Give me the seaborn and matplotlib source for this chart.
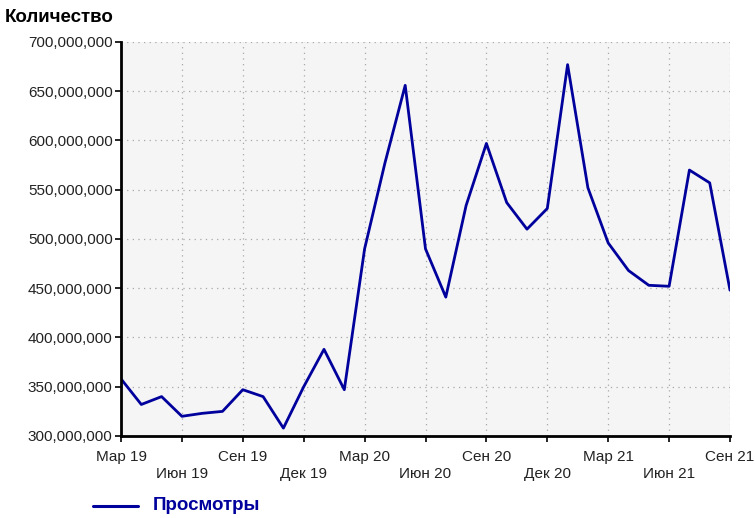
import matplotlib
matplotlib.use("Agg")
import matplotlib.pyplot as plt
import seaborn as sns
import pandas as pd
from matplotlib.ticker import FuncFormatter, MultipleLocator
from matplotlib.lines import Line2D

months = ["Мар 19", "Апр 19", "Май 19", "Июн 19", "Июл 19", "Авг 19", "Сен 19", "Окт 19",
          "Ноя 19", "Дек 19", "Янв 20", "Фев 20", "Мар 20", "Апр 20", "Май 20", "Июн 20",
          "Июл 20", "Авг 20", "Сен 20", "Окт 20", "Ноя 20", "Дек 20", "Янв 21", "Фев 21",
          "Мар 21", "Апр 21", "Май 21", "Июн 21", "Июл 21", "Авг 21", "Сен 21"]
views = [358e6, 332e6, 340e6, 320e6, 323e6, 325e6, 347e6, 340e6,
         308e6, 350e6, 388e6, 347e6, 490e6, 577e6, 656e6, 490e6,
         441e6, 534e6, 597e6, 537e6, 510e6, 531e6, 677e6, 552e6,
         496e6, 468e6, 453e6, 452e6, 570e6, 557e6, 448e6]
tick_labels = ["Мар 19", "Июн 19", "Сен 19", "Дек 19", "Мар 20", "Июн 20",
               "Сен 20", "Дек 20", "Мар 21", "Июн 21", "Сен 21"]

df = pd.DataFrame({"idx": range(len(months)), "month": months, "views": views})

sns.set_theme(style="white")
plt.rcParams['font.family'] = ['Liberation Sans', 'DejaVu Sans']

fig = plt.figure(figsize=(7.55, 5.18), dpi=100)
ax = fig.add_axes([121/755, 1-436/518, (730-121)/755, (436-42)/518])
ax.set_facecolor("#f5f5f5")

sns.lineplot(data=df, x="idx", y="views", ax=ax, color="#00009c", linewidth=2.0, legend=False)

ax.set_xlim(0, len(months)-1)
ax.set_ylim(300e6, 700e6)
ax.yaxis.set_major_locator(MultipleLocator(50e6))
ax.yaxis.set_major_formatter(FuncFormatter(lambda v, p: f"{int(round(v)):,}"))

ticks = list(range(0, len(months), 3))
ax.set_xticks(ticks)
ax.set_xticklabels([("" if i % 2 == 0 else "\n") + lab for i, lab in enumerate(tick_labels)])

ax.grid(True, color="#a8a8a8", linestyle=(0, (1, 3.5)), linewidth=0.9)
for s in ["top", "right"]:
    ax.spines[s].set_visible(False)
for s in ["left", "bottom"]:
    ax.spines[s].set_color("black")
    ax.spines[s].set_linewidth(2)

ax.tick_params(axis="both", which="major", length=4, width=1.2, color="black",
               labelsize=11, labelcolor="#222222", pad=2, bottom=True, left=True)
ax.tick_params(axis="x", pad=6)
for t in ax.get_xticklabels():
    t.set_linespacing(1.3)
ax.set_xlabel("")
ax.set_ylabel("")

fig.text(5/755, 1-17/518, "Количество", fontsize=13.5, fontweight="bold", color="black",
         ha="left", va="center")

fig.add_artist(Line2D([93/755, 138/755], [1-506/518, 1-506/518], color="#00009c", linewidth=2.2))
fig.text(153/755, 1-506/518, "Просмотры", fontsize=13.5, fontweight="bold", color="#00009c",
         ha="left", va="center")

fig.savefig("out.png", dpi=100)
